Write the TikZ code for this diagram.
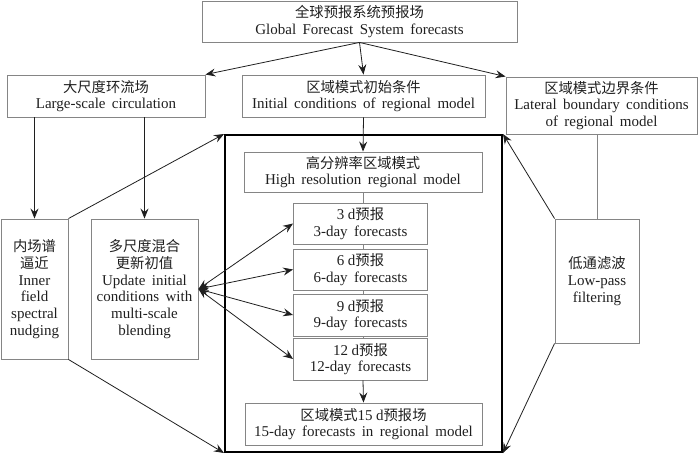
\documentclass[tikz,border=0pt]{standalone}
\usepackage{fontspec}
\setmainfont{Liberation Serif}[WordSpace=1.7]
\newfontfamily\cjk{Noto Sans CJK SC}
\usetikzlibrary{arrows.meta}
\definecolor{boxgray}{HTML}{858585}
\definecolor{txt}{HTML}{1f1f1f}
\tikzset{
  bx/.style={draw=boxgray, line width=0.9pt, rectangle, inner sep=0pt, align=center,
    text=txt, font=\fontsize{15}{16.7}\selectfont},
  conn/.style={draw=txt, line width=0.8pt},
  arr/.style={conn, -{Stealth[length=10pt,width=8pt,inset=3.5pt]}},
  darr/.style={conn, {Stealth[length=10pt,width=8pt,inset=3.5pt]}-{Stealth[length=10pt,width=8pt,inset=3.5pt]}},
}
\newcommand{\zh}[1]{{\cjk\fontsize{14.3}{16.7}\selectfont #1}}
\newcommand{\ds}{\hspace{3.5pt}}
\begin{document}
\begin{tikzpicture}[x=1pt,y=-1pt]
\useasboundingbox (0,0) rectangle (700,454);
% boxes
\node[bx, minimum width=315pt, minimum height=41pt] (gfs) at (359.5,21.5)
  {\zh{全球预报系统预报场}\\Global Forecast System forecasts};
\node[bx, minimum width=198pt, minimum height=42pt] (lsc) at (106,96)
  {\zh{大尺度环流场}\\Large-scale circulation};
\node[bx, minimum width=243pt, minimum height=42pt] (ic) at (363.5,96)
  {\zh{区域模式初始条件}\\Initial conditions of regional model};
\node[bx, minimum width=191pt, minimum height=57pt] (lbc) at (601.5,105.5)
  {\zh{区域模式边界条件}\\Lateral boundary conditions\\of regional model};
\node[draw=black, line width=2pt, rectangle, minimum width=277pt, minimum height=317pt, inner sep=0pt] (big) at (363.5,293.5) {};
\node[bx, minimum width=238pt, minimum height=40pt] (hr) at (363,172)
  {\zh{高分辨率区域模式}\\High resolution regional model};
\node[bx, minimum width=134pt, minimum height=41pt] (d3) at (360.5,223.5)
  {3\ds d\zh{预报}\\3-day forecasts};
\node[bx, minimum width=134pt, minimum height=41pt] (d6) at (360.5,269.5)
  {6\ds d\zh{预报}\\6-day forecasts};
\node[bx, minimum width=134pt, minimum height=42pt] (d9) at (360.5,315)
  {9\ds d\zh{预报}\\9-day forecasts};
\node[bx, minimum width=134pt, minimum height=42pt] (d12) at (360.5,359)
  {12\ds d\zh{预报}\\12-day forecasts};
\node[bx, minimum width=237pt, minimum height=42pt] (d15) at (363.5,424)
  {\zh{区域模式}15\ds d\zh{预报场}\\15-day forecasts in regional model};
\node[bx, minimum width=67pt, minimum height=140pt] (inner) at (34.5,289)
  {\zh{内场谱}\\\zh{逼近}\\Inner\\field\\spectral\\nudging};
\node[bx, minimum width=107pt, minimum height=140pt] (upd) at (144.5,289)
  {\zh{多尺度混合}\\\zh{更新初值}\\Update initial\\conditions with\\multi-scale\\blending};
\node[bx, minimum width=84pt, minimum height=124pt] (low) at (597,281)
  {\zh{低通滤波}\\Low-pass\\filtering};
% connectors
\draw[arr] (gfs.south) -- (lsc.north east);
\draw[arr] (gfs.south) -- (ic.north);
\draw[arr] (gfs.south) -- (lbc.north west);
\draw[arr] (lsc.south -| inner.north) -- (inner.north);
\draw[arr] (lsc.south -| upd.north) -- (upd.north);
\draw[arr] (ic.south) -- (hr.north);
\draw[arr] (inner.north east) -- (big.north west);
\draw[arr] (inner.south east) -- (big.south west);
\draw[arr] (low.north west) -- (big.north east);
\draw[arr] (low.south west) -- (big.south east);
\draw[draw=boxgray, line width=0.9pt] (lbc.south -| low.north) -- (low.north);
\draw[draw=boxgray, line width=0.9pt] (hr.south) -- (hr.south |- d3.north);
\draw[draw=boxgray, line width=0.9pt] (hr.south |- d3.south) -- (hr.south |- d6.north);
\draw[draw=boxgray, line width=0.9pt] (hr.south |- d6.south) -- (hr.south |- d9.north);
\draw[draw=boxgray, line width=0.9pt] (hr.south |- d9.south) -- (hr.south |- d12.north);
\draw[arr] (hr.south |- d12.south) -- (d15.north);
\draw[darr] (upd.east) -- (d3.west);
\draw[darr] (upd.east) -- (d6.west);
\draw[darr] (upd.east) -- (d9.west);
\draw[darr] (upd.east) -- (d12.west);
\end{tikzpicture}
\end{document}
